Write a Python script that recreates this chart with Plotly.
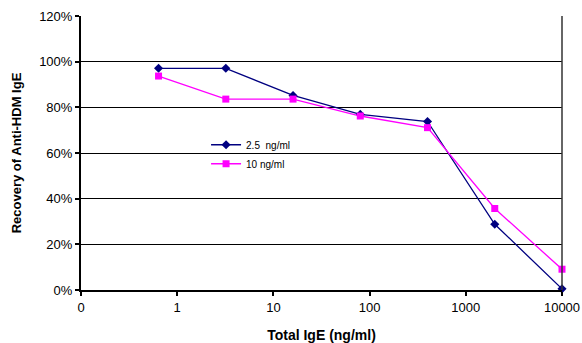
import plotly.graph_objects as go

total_ige = [0.64, 3.2, 16, 80, 400, 2000, 10000]
rec_25 = [97.1, 97.1, 85.2, 76.9, 73.8, 28.8, 0.5]
rec_10 = [93.7, 83.6, 83.6, 76.2, 71.1, 35.7, 9.1]
x_tickvals = [0.1, 1, 10, 100, 1000, 10000]
x_ticktext = ["0", "1", "10", "100", "1000", "10000"]
y_tickvals = [0, 20, 40, 60, 80, 100, 120]
y_ticktext = ["0%", "20%", "40%", "60%", "80%", "100%", "120%"]

fig = go.Figure()
fig.add_trace(go.Scatter(x=total_ige, y=rec_25, mode="lines+markers", name="2.5  ng/ml",
                         line=dict(color="#000080", width=1.3), cliponaxis=False,
                         marker=dict(symbol="diamond", size=7, color="#000080")))
fig.add_trace(go.Scatter(x=total_ige, y=rec_10, mode="lines+markers", name="10 ng/ml",
                         line=dict(color="#FF00FF", width=1.3), cliponaxis=False,
                         marker=dict(symbol="square", size=7, color="#FF00FF")))

fig.update_layout(
    width=582, height=343,
    margin=dict(l=81, r=20, t=16, b=53, autoexpand=False),
    paper_bgcolor="white", plot_bgcolor="white",
    font=dict(family="Liberation Sans, Arial, sans-serif", color="black"),
    showlegend=True,
    legend=dict(x=0.26, y=0.583, xanchor="left", yanchor="top", bgcolor="rgba(0,0,0,0)",
                font=dict(size=10), itemwidth=30, tracegroupgap=0),
    xaxis=dict(type="log", range=[-1, 4], tickvals=x_tickvals, ticktext=x_ticktext,
               showgrid=False, ticks="outside", ticklen=4, tickwidth=1.5, tickcolor="black",
               showline=True, linecolor="black", linewidth=2, mirror=False,
               tickfont=dict(size=13), automargin=False,
               title=dict(text="<b>Total IgE (ng/ml)</b>", font=dict(size=14), standoff=17)),
    yaxis=dict(range=[0, 120], tickvals=y_tickvals, ticktext=y_ticktext,
               showgrid=True, gridcolor="black", gridwidth=1,
               ticks="outside", ticklen=4, tickwidth=1.5, tickcolor="black",
               showline=True, linecolor="black", linewidth=2,
               tickfont=dict(size=13), zeroline=False, automargin=False,
               title=dict(text="<b>Recovery of Anti-HDM IgE</b>", font=dict(size=13), standoff=15)),
)
# right border of the plot area
fig.add_shape(type="line", xref="paper", yref="paper", x0=1, x1=1, y0=0, y1=1,
              line=dict(color="#333333", width=1.5))

fig.write_html("out.html")
